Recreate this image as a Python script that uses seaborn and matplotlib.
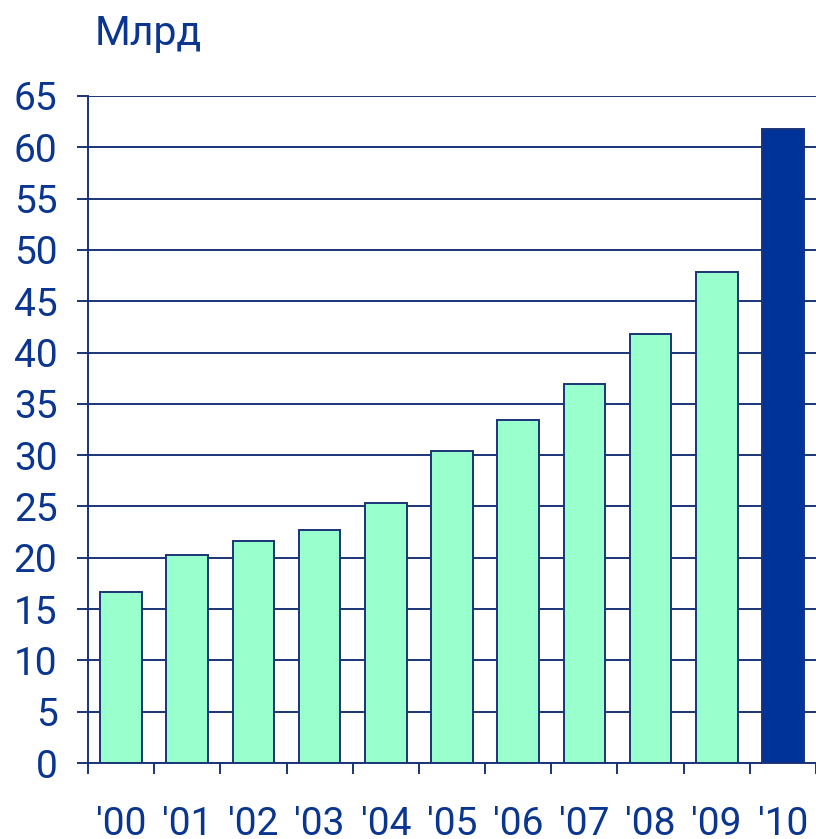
import numpy as np
import matplotlib
matplotlib.use("Agg")
import matplotlib.pyplot as plt
import seaborn as sns

# data
years = ["'00", "'01", "'02", "'03", "'04", "'05", "'06", "'07", "'08", "'09", "'10"]
values = [16.7, 20.3, 21.6, 22.7, 25.3, 30.4, 33.4, 36.9, 41.8, 47.8, 61.8]
bar_colors = ["#99FFCC"] * 10 + ["#003399"]

navy = "#1a3478"
text_blue = "#0a3590"

sns.set_theme(style="white")
plt.rcParams['font.family'] = ['Roboto', 'DejaVu Sans']

fig = plt.figure(figsize=(8.16, 8.39), dpi=100)
ax = fig.add_axes([88 / 816, 1 - 763 / 839, (816 - 88) / 816, (763 - 96) / 839])

# grid lines behind bars
for v in range(0, 70, 5):
    ax.axhline(v, color=navy, lw=1.4, zorder=0)

sns.barplot(
    x=years,
    y=values,
    hue=years,
    palette=bar_colors,
    legend=False,
    width=0.63,
    edgecolor=navy,
    linewidth=1.4,
    saturation=1,
    ax=ax,
    zorder=2,
)

ax.set_ylim(0, 65)
ax.set_xlim(-0.5, -0.5 + 728 / 66.4)
ax.set_yticks(range(0, 70, 5))
ax.set_xticks(np.arange(-0.5, 10.6, 1.0))
ax.set_xticklabels([])
ax.set_xticks(range(len(years)), minor=True)
ax.set_xticklabels(years, minor=True)
ax.set_xlabel('')
ax.set_ylabel('')

for s in ['top', 'right']:
    ax.spines[s].set_visible(False)
for s in ['left', 'bottom']:
    ax.spines[s].set_color(navy)
    ax.spines[s].set_linewidth(1.4)

ax.tick_params(axis='y', which='major', length=8, width=1.4, color=navy, pad=14,
               labelsize=28, labelcolor=text_blue, left=True)
ax.tick_params(axis='x', which='major', length=8, width=1.4, color=navy, bottom=True)
ax.tick_params(axis='x', which='minor', length=0, pad=31, labelsize=28, labelcolor=text_blue)

fig.text(95 / 816, 1 - 45 / 839, 'Млрд', fontsize=29.5, color=text_blue, va='baseline')

fig.savefig('out.png', dpi=100)
